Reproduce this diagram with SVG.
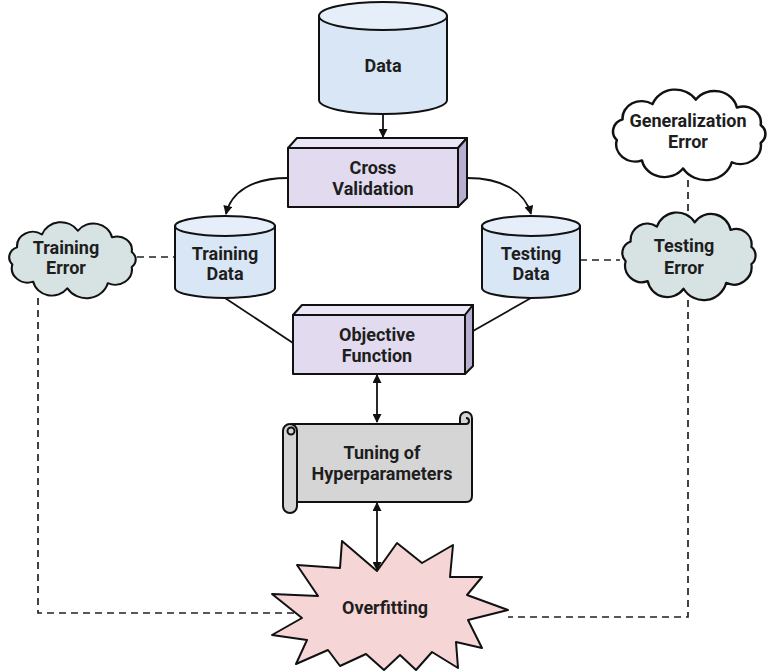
<svg xmlns="http://www.w3.org/2000/svg" width="772" height="672" viewBox="0 0 772 672">
<style>
.t{font-family:Roboto,"Liberation Sans",Arial,sans-serif;font-weight:bold;font-size:18px;fill:#1e1e1e;text-anchor:middle}
.o{stroke:#111;stroke-width:2;stroke-linejoin:round}
.cyl{fill:#d9e6f5}
.cyltop{fill:#e6eefa}
.front{fill:#e2dbef}
.top{fill:#ebe6f5}
.side{fill:#b8aecf}
.cloud{fill:#d7e2e2;stroke:#111;stroke-width:2;vector-effect:non-scaling-stroke;stroke-linejoin:round}
.dash{fill:none;stroke:#222;stroke-width:1.7;stroke-dasharray:7 5}
.sol{fill:none;stroke:#111;stroke-width:1.8}
</style>
<defs>
<marker id="ah" viewBox="0 0 10 10" refX="9" refY="5" markerWidth="10" markerHeight="9" orient="auto-start-reverse" markerUnits="userSpaceOnUse">
<path d="M0,0 L10,5 L0,10 z" fill="#111"/>
</marker>
<path id="cloudShape" d="M12.9,45.2 A11,11 0 0 1 17.4,27.3 A15,15 0 0 1 41,14 A19,19 0 0 1 75,10.1 A18,18 0 0 1 107.3,17 A14,14 0 0 1 126,32.2 A10,10 0 0 1 126,47.8 A16,16 0 0 1 103.3,64.6 A21,21 0 0 1 65,69.9 A18,18 0 0 1 32.7,63 A15,15 0 0 1 12.9,45.2 Z"/>
</defs>

<g id="connectors">
<path class="dash" d="M38,298 V613 H300"/>
<path class="dash" d="M688,300 V617 H508"/>
<path class="dash" d="M688,180 V211"/>
<path class="dash" d="M137,257 H175"/>
<path class="dash" d="M580,260 H620"/>
<path class="sol" d="M225,298 L293,343"/>
<path class="sol" d="M531,298 L473,331"/>
<path class="sol" d="M288,178 C252,178 231,192 226,214" marker-end="url(#ah)"/>
<path class="sol" d="M467,178 C503,178 525,192 531,214" marker-end="url(#ah)"/>
<path class="sol" d="M383,114 V137" marker-end="url(#ah)"/>
<path class="sol" d="M377,375 V422" marker-start="url(#ah)" marker-end="url(#ah)"/>
<path class="sol" d="M377,503 V570" marker-start="url(#ah)" marker-end="url(#ah)"/>
</g>

<g id="data">
<path class="cyl o" d="M319,16 V100 A64,14 0 0 0 447,100 V16 Z"/>
<ellipse class="cyltop o" cx="383" cy="16" rx="64" ry="14"/>
<text class="t" x="383" y="72">Data</text>
</g>

<g id="cross-validation">
<rect class="front o" x="288" y="148" width="170" height="59"/>
<polygon class="top o" points="288,148 297,138 467,138 458,148"/>
<polygon class="side o" points="458,148 467,138 467,198 458,207"/>
<text class="t" x="373" y="174">Cross</text>
<text class="t" x="373" y="195">Validation</text>
</g>

<g id="training-data">
<path class="cyl o" d="M175,226 V288 A50,10 0 0 0 275,288 V226 Z"/>
<ellipse class="cyltop o" cx="225" cy="226" rx="50" ry="10"/>
<text class="t" x="225" y="260">Training</text>
<text class="t" x="225" y="279.5">Data</text>
</g>

<g id="testing-data">
<path class="cyl o" d="M482,226 V288 A49,10 0 0 0 580,288 V226 Z"/>
<ellipse class="cyltop o" cx="531" cy="226" rx="49" ry="10"/>
<text class="t" x="531" y="260">Testing</text>
<text class="t" x="531" y="279.5">Data</text>
</g>

<g id="training-error">
<use href="#cloudShape" class="cloud" transform="translate(-1.3,221) scale(1.056,0.963)"/>
<text class="t" x="66" y="253.5">Training</text>
<text class="t" x="66" y="273.5">Error</text>
</g>

<g id="generalization-error">
<use href="#cloudShape" class="cloud" style="fill:#ffffff" transform="translate(600.4,88.1) scale(1.272,1.148)"/>
<text class="t" x="688" y="127">Generalization</text>
<text class="t" x="688" y="147.5">Error</text>
</g>

<g id="testing-error">
<use href="#cloudShape" class="cloud" transform="translate(611.3,211.1) scale(1.112,1.111)"/>
<text class="t" x="684" y="252">Testing</text>
<text class="t" x="684" y="273.5">Error</text>
</g>

<g id="objective-function">
<rect class="front o" x="293" y="315" width="172" height="59"/>
<polygon class="top o" points="293,315 302,305 473,305 465,315"/>
<polygon class="side o" points="465,315 473,305 473,366 465,374"/>
<text class="t" x="377" y="341">Objective</text>
<text class="t" x="377" y="362">Function</text>
</g>

<g id="tuning-hyperparameters">
<path class="o" fill="#d5d5d5" d="M292,424 H460 V418 A6,6 0 0 1 472,418 V496 Q472,502 466,502 H292 Z"/>
<path class="o" fill="none" d="M460,424 H466 A3,3 0 0 0 466,418"/>
<rect class="o" fill="#d5d5d5" x="283" y="424" width="14" height="89" rx="7"/>
<circle class="o" fill="#d5d5d5" cx="291" cy="431" r="3.5"/>
<text class="t" x="382" y="459">Tuning of</text>
<text class="t" x="382" y="480">Hyperparameters</text>
</g>

<g id="overfitting">
<polygon class="o" fill="#f6d5d6" points="342,541 377,571 397,543 422,563 453,545 450,577 482,577 467,595 508,610 468,620 482,648 456,642 458,668 432,652 416,670 400,655 384,670 366,654 340,666 328,650 296,664 307,640 272,635 302,618 272,594 318,596 297,565 340,568"/>
<text class="t" x="385" y="614">Overfitting</text>
</g>
</svg>
